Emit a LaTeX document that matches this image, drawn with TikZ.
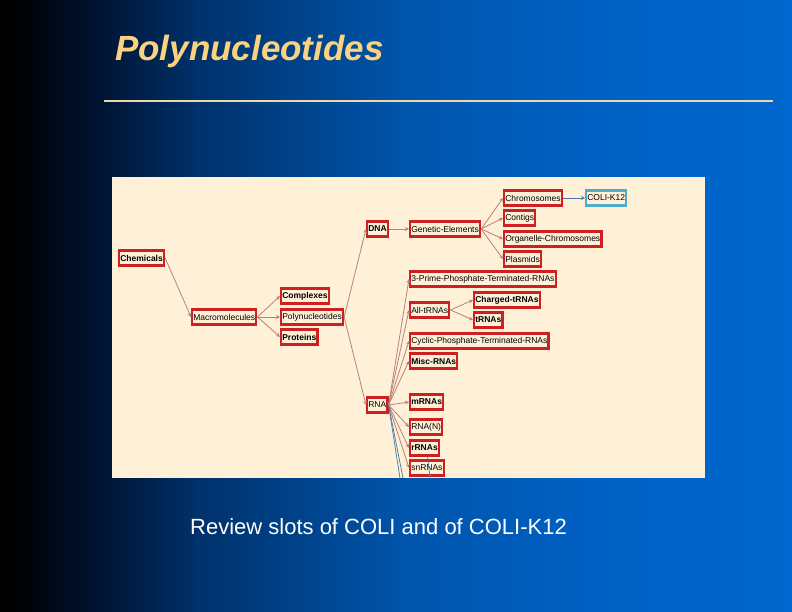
\documentclass[tikz,border=0pt]{standalone}
\usepackage{fontspec}
\setmainfont{Liberation Sans}

\definecolor{panelbg}{RGB}{255,240,216}
\definecolor{boxred}{RGB}{205,32,32}
\definecolor{edgepink}{RGB}{186,128,122}
\definecolor{instblue}{RGB}{80,172,204}
\definecolor{linkblue}{RGB}{70,120,165}
\definecolor{titlegold}{RGB}{250,210,128}
\definecolor{rulegold}{RGB}{236,216,168}
\definecolor{bgA}{RGB}{0,20,52}
\definecolor{bgB}{RGB}{0,50,108}
\definecolor{bgC}{RGB}{0,84,170}
\definecolor{bgD}{RGB}{0,97,196}
\definecolor{slideblue}{RGB}{0,103,206}

\pgfdeclarehorizontalshading{slidebg}{100bp}{color(0bp)=(black); color(25.8bp)=(black);
  color(31.3bp)=(bgA); color(37.6bp)=(bgB); color(50.3bp)=(bgC); color(62.9bp)=(bgD);
  color(75bp)=(slideblue); color(100bp)=(slideblue)}

\begin{document}
\begin{tikzpicture}[
  x=1pt, y=-1pt,
  cls/.style={draw=boxred, line width=2.2pt, font=\fontsize{8.5}{9}\selectfont,
    inner xsep=1.2pt, inner ysep=0pt, minimum height=15pt, anchor=west},
  bcls/.style={cls, font=\fontsize{8.5}{9}\selectfont\bfseries},
  inst/.style={cls, draw=instblue},
  isa/.style={->, draw=edgepink, line width=0.8pt},
  link/.style={draw=linkblue, line width=0.7pt},
  -, >=stealth
]
\useasboundingbox (0,0) rectangle (792,612);
\shade[shading=slidebg] (0,0) rectangle (792,612);

% title and rule
\node[anchor=west, inner sep=0, text=titlegold,
  font=\fontsize{35}{40}\selectfont\bfseries\itshape] (title) at (115,51) {Polynucleotides};
\draw[rulegold, line width=1.5pt] (104,101) -- (773,101);

% browser panel
\fill[panelbg] (112,177) rectangle (705,478);

% classes
\node[bcls] (chem)  at (118,258) {Chemicals};
\node[cls]  (macro) at (191,317) {Macromolecules};
\node[bcls] (cplx)  at (280,296) {Complexes};
\node[cls]  (poly)  at (280,317) {Polynucleotides};
\node[bcls] (prot)  at (280,337) {Proteins};
\node[bcls] (dna)   at (366,229) {DNA};
\node[cls]  (rna)   at (366,405) {RNA};
\node[cls]  (gen)   at (409,229) {Genetic-Elements};
\node[cls]  (chrom) at (503,198) {Chromosomes};
\node[inst] (k12)   at (585,198) {COLI-K12};
\node[cls]  (contig) at (503,218) {Contigs};
\node[cls]  (organ) at (503,239) {Organelle-Chromosomes};
\node[cls]  (plas)  at (503,259) {Plasmids};
\node[cls]  (prime) at (409,279) {3-Prime-Phosphate-Terminated-RNAs};
\node[cls]  (alltrna) at (409,310) {All-tRNAs};
\node[bcls] (chtrna) at (473,300) {Charged-tRNAs};
\node[bcls] (trna)  at (473,320) {tRNAs};
\node[cls]  (cyclic) at (409,341) {Cyclic-Phosphate-Terminated-RNAs};
\node[bcls] (misc)  at (409,361) {Misc-RNAs};
\node[bcls] (mrna)  at (409,402) {mRNAs};
\node[cls]  (rnan)  at (409,427) {RNA(N)};
\node[bcls] (rrna)  at (409,448) {rRNAs};
\node[cls]  (snrna) at (409,468) {snRNAs};

% subclass links
\draw[isa] (chem.east) -- (macro.west);
\foreach \c in {cplx,poly,prot} \draw[isa] (macro.east) -- (\c.west);
\foreach \c in {dna,rna} \draw[isa] (poly.east) -- (\c.west);
\draw[isa] (dna.east) -- (gen.west);
\foreach \c in {chrom,contig,organ,plas} \draw[isa] (gen.east) -- (\c.west);
\foreach \c in {prime,alltrna,cyclic,misc,mrna,rnan,rrna,snrna} \draw[isa] (rna.east) -- (\c.west);
\foreach \c in {chtrna,trna} \draw[isa] (alltrna.east) -- (\c.west);
\draw[->, link] (chrom.east) -- (k12.west);

% instance links running off the panel
\coordinate (cutA) at (400,478);
\coordinate (cutB) at (403,478);
\coordinate (cutC) at (430,478);
\draw[link] (rna.east) -- (cutA);
\draw[link] (rna.east) -- (cutB);
\draw[->, link] ([xshift=3pt]rrna.south) -- (cutC);

% caption
\node[anchor=west, inner sep=0, text=white, font=\fontsize{22}{26}\selectfont] (caption)
  at (190,527) {Review slots of COLI and of COLI-K12};
\end{tikzpicture}
\end{document}
